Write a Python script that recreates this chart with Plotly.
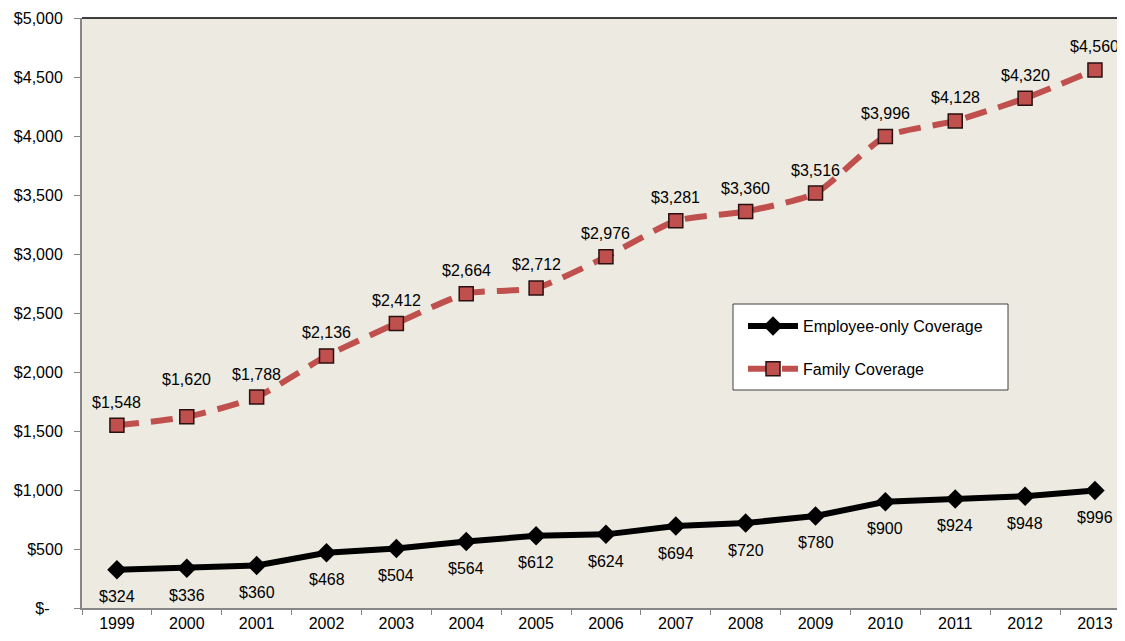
import plotly.graph_objects as go

years = ["1999", "2000", "2001", "2002", "2003", "2004", "2005", "2006",
         "2007", "2008", "2009", "2010", "2011", "2012", "2013"]
employee_only = [324, 336, 360, 468, 504, 564, 612, 624, 694, 720, 780, 900, 924, 948, 996]
family = [1548, 1620, 1788, 2136, 2412, 2664, 2712, 2976, 3281, 3360, 3516, 3996, 4128, 4320, 4560]
y_ticks = [0, 500, 1000, 1500, 2000, 2500, 3000, 3500, 4000, 4500, 5000]
y_tick_labels = ["$-\u00a0\u00a0\u00a0", "$500", "$1,000", "$1,500", "$2,000", "$2,500", "$3,000",
                 "$3,500", "$4,000", "$4,500", "$5,000"]

FONT = "Liberation Sans, Arial, sans-serif"
FS = 16

def money(v):
    return "${:,}".format(v)

fig = go.Figure()
fig.add_trace(go.Scatter(
    x=years, y=employee_only, name="Employee-only Coverage",
    mode="lines+markers",
    line=dict(color="#000000", width=6),
    marker=dict(symbol="diamond", size=15, color="#000000"),
    legendgroup="a", cliponaxis=False,
))
fig.add_trace(go.Scatter(
    x=years, y=family, name="Family Coverage",
    mode="lines+markers",
    line=dict(color="#C0504D", width=6, dash="22px,12px", shape="spline", smoothing=0.6),
    marker=dict(symbol="square", size=14, color="#C0504D",
                line=dict(color="#2a1010", width=1.5)),
    legendgroup="b", cliponaxis=False,
))

annotations = []
for i, v in enumerate(employee_only):
    annotations.append(dict(x=i, y=v, xref="x", yref="y", text=money(v), showarrow=False,
                            yshift=-27, xanchor="center", yanchor="middle",
                            font=dict(family=FONT, size=FS, color="#000000")))
for i, v in enumerate(family):
    shift = 37 if years[i] == "2000" else 23
    annotations.append(dict(x=i, y=v, xref="x", yref="y", text=money(v), showarrow=False,
                            yshift=shift, xanchor="center", yanchor="middle",
                            font=dict(family=FONT, size=FS, color="#000000")))

# page body has an 8px margin; compensate so the plot area sits at x 82..1125, y 18..608
fig.update_layout(
    width=1117, height=625,
    margin=dict(l=74, r=0, t=10, b=25, autoexpand=False),
    paper_bgcolor="#FFFFFF",
    plot_bgcolor="#EDEBE1",
    font=dict(family=FONT, size=FS, color="#000000"),
    showlegend=True,
    annotations=annotations,
    legend=dict(
        x=(743 - 82) / 1043, y=(608 - 309) / 590, xanchor="left", yanchor="top",
        bgcolor="rgba(0,0,0,0)", borderwidth=0,
        font=dict(family=FONT, size=FS, color="#000000"),
        tracegroupgap=19, traceorder="grouped", itemwidth=50,
    ),
    xaxis=dict(
        type="category", range=[-0.5, 14.43], automargin=False,
        showgrid=False, zeroline=False,
        showline=True, linecolor="#868686", linewidth=2,
        ticks="outside", tickson="boundaries", ticklen=5, tickcolor="#868686",
        ticklabelstandoff=0,
        tickfont=dict(family=FONT, size=FS, color="#000000"),
    ),
    yaxis=dict(
        range=[0, 5000], tickvals=y_ticks, ticktext=y_tick_labels, automargin=False,
        showgrid=False, zeroline=False,
        showline=True, linecolor="#868686", linewidth=2,
        ticks="outside", ticklen=6, tickcolor="#868686",
        ticklabelstandoff=8,
        tickfont=dict(family=FONT, size=FS, color="#000000"),
    ),
    shapes=[
        dict(type="line", xref="paper", yref="paper", x0=0, x1=1, y0=1, y1=1,
             line=dict(color="#000000", width=1.5)),
        dict(type="rect", xref="paper", yref="paper", layer="below",
             x0=(733 - 82) / 1043, x1=(1008 - 82) / 1043,
             y0=(608 - 390) / 590, y1=(608 - 304) / 590,
             fillcolor="#FFFFFF", line=dict(color="#404040", width=1)),
    ],
)

fig.write_html("out.html")
